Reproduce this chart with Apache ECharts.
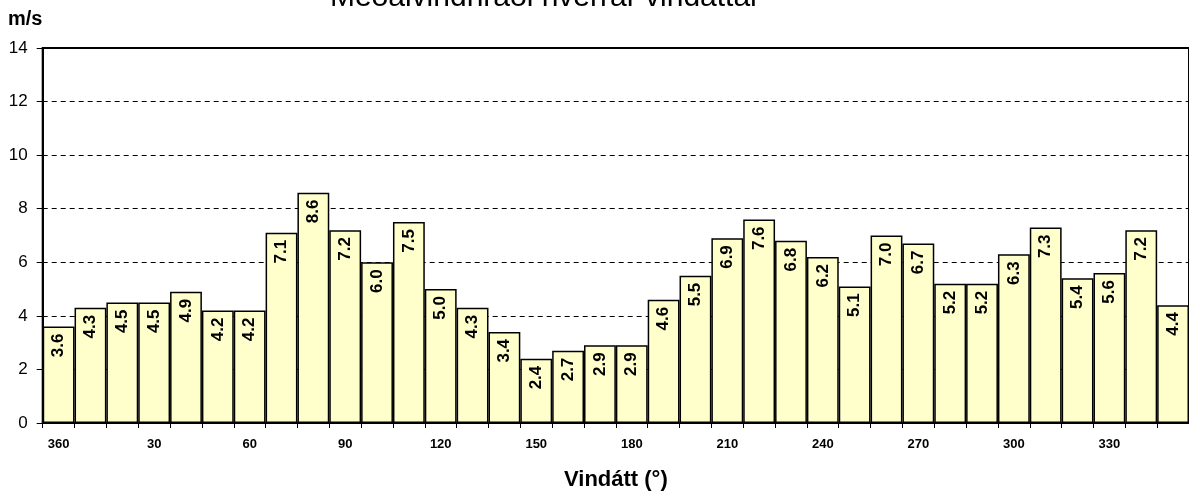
<!DOCTYPE html>
<html>
<head>
<meta charset="utf-8">
<script src="https://cdn.jsdelivr.net/npm/echarts@6/dist/echarts.min.js"></script>
<style>
  html, body { margin: 0; padding: 0; background: #fff; }
  #chart { width: 1189px; height: 496px; }
</style>
</head>
<body>
<div id="chart"></div>
<script>
// vindáttir, 10° bil
const directions = ['360', '10', '20', '30', '40', '50', '60', '70', '80', '90',
  '100', '110', '120', '130', '140', '150', '160', '170', '180', '190',
  '200', '210', '220', '230', '240', '250', '260', '270', '280', '290',
  '300', '310', '320', '330', '340', '350'];

// meðalvindhraði (m/s)
const meanSpeed = [3.6, 4.3, 4.5, 4.5, 4.9, 4.2, 4.2, 7.1, 8.6, 7.2,
  6.0, 7.5, 5.0, 4.3, 3.4, 2.4, 2.7, 2.9, 2.9, 4.6,
  5.5, 6.9, 7.6, 6.8, 6.2, 5.1, 7.0, 6.7, 5.2, 5.2,
  6.3, 7.3, 5.4, 5.6, 7.2, 4.4];

const yTicks = [0, 2, 4, 6, 8, 10, 12, 14];

const chart = echarts.init(document.getElementById('chart'));

const option = {
  animation: false,
  title: {
    text: 'Meðalvindhraði hverrar vindáttar',
    left: 540,
    top: -22,
    textAlign: 'center',
    textStyle: { fontFamily: 'Liberation Sans', fontSize: 30, fontWeight: 'normal', color: '#000' }
  },
  graphic: [
    {
      type: 'text', left: 8, top: 9,
      style: { text: 'm/s', font: 'bold 20px "Liberation Sans"', fill: '#000' }
    }
  ],
  grid: { left: 42.7, right: -5.7, top: 48, bottom: 73, show: true, borderColor: '#000', borderWidth: 2 },
  xAxis: {
    type: 'category',
    data: directions,
    name: 'Vindátt (°)',
    nameLocation: 'middle',
    nameGap: 46,
    nameTextStyle: { fontFamily: 'Liberation Sans', fontSize: 22, fontWeight: 'bold', color: '#000' },
    axisLine: { lineStyle: { color: '#000', width: 2 } },
    axisTick: { show: true, interval: 0, length: 5, lineStyle: { color: '#000' } },
    axisLabel: {
      interval: 2, margin: 15,
      fontFamily: 'Liberation Sans', fontSize: 13, fontWeight: 'bold', color: '#000'
    }
  },
  yAxis: {
    type: 'value',
    min: yTicks[0],
    max: yTicks[yTicks.length - 1],
    interval: 2,
    axisLine: { show: true, lineStyle: { color: '#000', width: 2 } },
    axisTick: { show: true, length: 6, lineStyle: { color: '#000' } },
    axisLabel: { fontFamily: 'Liberation Sans', fontSize: 17, color: '#000', margin: 15 },
    splitLine: { lineStyle: { color: '#000', type: [5, 4], width: 1 } }
  },
  series: [
    {
      type: 'bar',
      data: meanSpeed,
      barCategoryGap: 0,
      z: 1,
      itemStyle: { color: '#FFFFCC', borderColor: '#000', borderWidth: 1.5 },
      label: {
        show: true,
        position: 'insideTop',
        rotate: 90,
        align: 'right',
        verticalAlign: 'middle',
        distance: 7,
        formatter: p => p.value.toFixed(1),
        fontFamily: 'Liberation Sans', fontSize: 17, fontWeight: 'bold', color: '#000'
      }
    }
  ]
};

chart.setOption(option);
</script>
</body>
</html>
